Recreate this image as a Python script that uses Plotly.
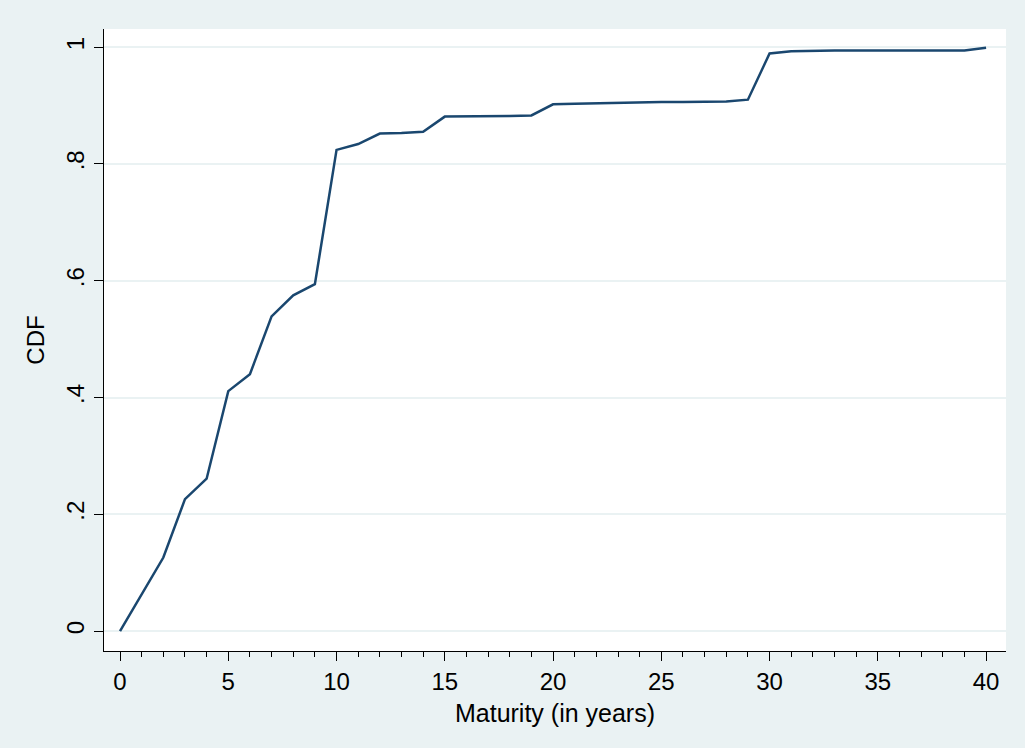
import plotly.graph_objects as go

maturity = list(range(0, 41))
cdf = [0.000, 0.063, 0.126, 0.226, 0.261, 0.411, 0.440, 0.539, 0.575, 0.594,
       0.824, 0.834, 0.852, 0.853, 0.855, 0.881, 0.881, 0.881, 0.882, 0.883,
       0.902, 0.903, 0.904, 0.904, 0.905, 0.906, 0.906, 0.907, 0.907, 0.910,
       0.989, 0.993, 0.994, 0.994, 0.994, 0.994, 0.994, 0.994, 0.994, 0.994,
       0.999]

y_tickvals = [0, 0.2, 0.4, 0.6, 0.8, 1.0]
y_ticktext = ["0", ".2", ".4", ".6", ".8", "1"]
x_tickvals = [0, 5, 10, 15, 20, 25, 30, 35, 40]

BG = "#eaf2f3"
LINE = "#1a476f"
FONT = "Liberation Sans, Arial, sans-serif"

fig = go.Figure()
fig.add_trace(go.Scatter(x=maturity, y=cdf, mode="lines",
                         line=dict(color=LINE, width=2.5), showlegend=False))

fig.update_layout(
    width=1025, height=748,
    paper_bgcolor=BG, plot_bgcolor="white",
    margin=dict(l=104, r=19, t=29, b=97),
    font=dict(family=FONT, size=24, color="black"),
    xaxis=dict(
        range=[-0.74, 40.92], tickvals=x_tickvals, ticks="outside", ticklen=9,
        tickwidth=1.3, tickcolor="black", showline=True, linecolor="black",
        linewidth=1.3, showgrid=False, zeroline=False,
        minor=dict(dtick=1, tick0=0, ticks="outside", ticklen=5,
                   tickwidth=1.3, tickcolor="black", showgrid=False),
        title=dict(text="Maturity (in years)", font=dict(size=25), standoff=10),
        tickfont=dict(size=24),
    ),
    yaxis=dict(
        range=[-0.034, 1.031], tickvals=y_tickvals, ticktext=y_ticktext,
        ticks="outside", ticklen=9, tickwidth=1.3, tickcolor="black",
        showline=True, linecolor="black", linewidth=1.3,
        showgrid=True, gridcolor=BG, gridwidth=1.8, zeroline=False,
        tickangle=-90,
        title=dict(text="CDF", font=dict(size=24), standoff=10),
        tickfont=dict(size=24),
    ),
)

fig.write_html("out.html", config={"displayModeBar": False},
               post_script="document.body.style.margin='0';document.body.style.overflow='hidden';")
